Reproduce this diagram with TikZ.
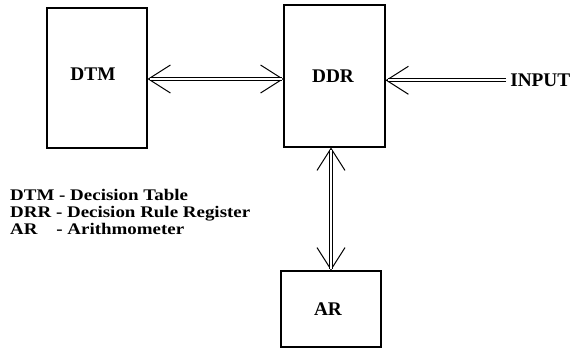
\documentclass[tikz,border=0pt]{standalone}
\usepackage{fontspec}
\setmainfont{Liberation Serif}
\usetikzlibrary{arrows.meta,calc}
\begin{document}
\begin{tikzpicture}[x=1pt,y=-1pt,
  lbl/.style={inner sep=0pt,font=\fontsize{19.3}{19.3}\selectfont\bfseries},
  block/.style={draw,line width=2.6pt,minimum width=#1,inner sep=0pt},
  legend/.style={anchor=base west,inner sep=0pt,xscale=1.17,
    font=\fontsize{16.2}{16.2}\selectfont\bfseries},
  tips/.style={line width=1pt,{Straight Barb[length=22pt,width=28pt]}-{Straight Barb[length=22pt,width=28pt]}},
  tip/.style={line width=1pt,-{Straight Barb[length=22pt,width=28pt]}},
  shaft/.style={double,double distance=2.4pt,line width=0.9pt}]
  \useasboundingbox (0,0) rectangle (571,349);
  % blocks and their labels
  \node[block=100pt,minimum height=140pt] (dtm) at (97,78) {};
  \node[block=101pt,minimum height=142pt] (ddr) at (334.5,76) {};
  \node[block=100pt,minimum height=76pt] (ar) at (331,309) {};
  \node[lbl] (dtmtext) at (93,74) {DTM};
  \node[lbl] (ddrtext) at (333,76) {DDR};
  \node[lbl] (artext) at (328,309) {AR};
  \node[lbl,anchor=base east] (inp) at (570.5,86.5) {INPUT};
  % connectors: single line with tips, then a double shaft on top
  \coordinate (h1) at ($(dtm.east)+(-0.8,1)$);
  \coordinate (h2) at ($(h1 -| ddr.west)+(0.8,0)$);
  \draw[tips] (h1) -- (h2);
  \draw[shaft,shorten <=2pt,shorten >=2pt] (h1) -- (h2);
  \coordinate (v2) at ($(ar.north)+(0,0.8)$);
  \coordinate (v1) at ($(v2 |- ddr.south)+(0,-0.8)$);
  \draw[tips] (v1) -- (v2);
  \draw[shaft,shorten <=2pt,shorten >=2pt] (v1) -- (v2);
  \coordinate (i1) at ($(inp.west)+(-4,0)$);
  \coordinate (i2) at ($(i1 -| ddr.east)+(-0.8,0)$);
  \draw[tip] (i1) -- (i2);
  \draw[shaft,shorten >=2pt] (i1) -- (i2);
  % legend
  \node[legend] (l1) at (10,200.7) {DTM - Decision Table};
  \node[legend] (l2) at (10,217.5) {DRR - Decision Rule Register};
  \node[legend] (l3) at (10,234.3) {AR\hspace{12pt} - Arithmometer};
\end{tikzpicture}
\end{document}
